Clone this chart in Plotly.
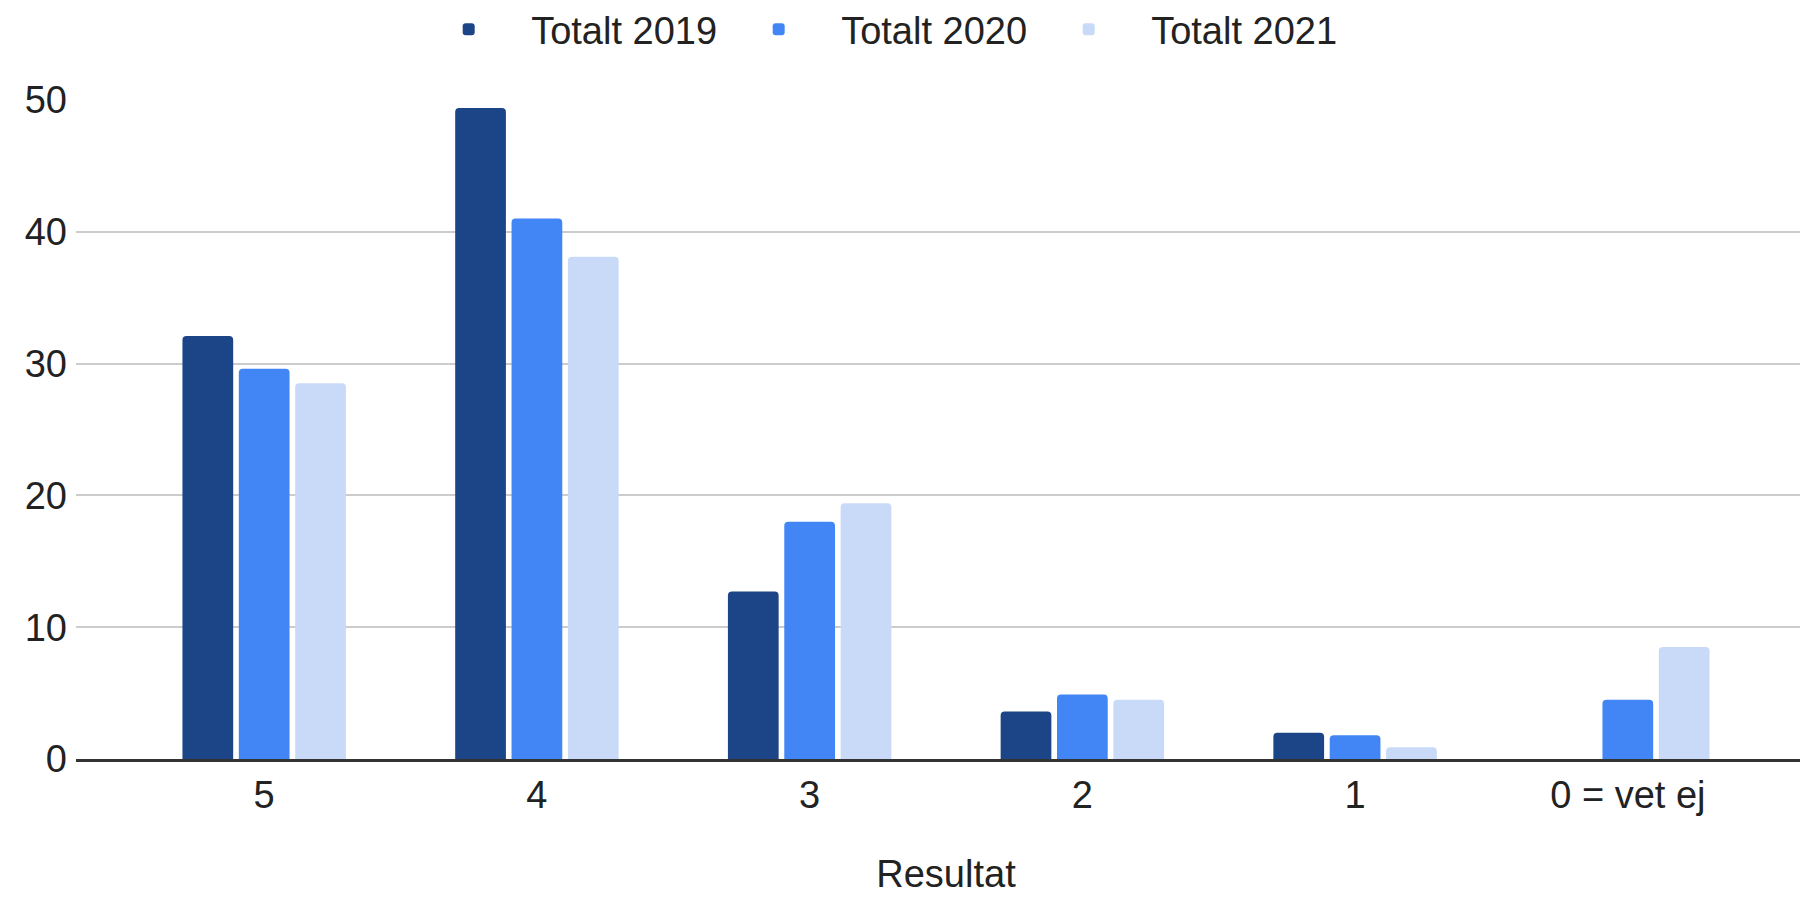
import plotly.graph_objects as go

categories = ["5", "4", "3", "2", "1", "0 = vet ej"]
series_names = ["Totalt 2019", "Totalt 2020", "Totalt 2021"]
totalt_2019 = [32.1, 49.4, 12.7, 3.6, 2.0, 0]
totalt_2020 = [29.6, 41.0, 18.0, 4.9, 1.8, 4.5]
totalt_2021 = [28.5, 38.1, 19.4, 4.5, 0.9, 8.5]
y_ticks = [0, 10, 20, 30, 40, 50]
colors = ["#1c4587", "#4285f4", "#c9daf8"]

fig = go.Figure()
for name, vals, col in zip(series_names, [totalt_2019, totalt_2020, totalt_2021], colors):
    fig.add_trace(go.Bar(x=categories, y=vals, name=name,
                         marker=dict(color=col, cornerradius=4, line=dict(width=0))))

FONT = "Liberation Sans, Arial, sans-serif"
FS = 38
fig.update_layout(
    width=1808, height=898,
    paper_bgcolor="white", plot_bgcolor="white",
    barmode="group", bargap=0.38, bargroupgap=0.1,
    margin=dict(l=68, r=0, t=92, b=147),
    font=dict(family=FONT, size=FS, color="#222222"),
    legend=dict(orientation="h", x=0.457, xanchor="center", y=0.976, yanchor="middle",
                yref="container", font=dict(size=FS, color="#222222"),
                entrywidth=180, entrywidthmode="pixels", itemwidth=115,
                bgcolor="rgba(0,0,0,0)"),
    xaxis=dict(title=dict(text="Resultat", font=dict(size=FS), standoff=46),
               range=[-0.69, 5.69], showgrid=False, showline=True,
               linecolor="#333333", linewidth=3, ticks="", tickfont=dict(size=FS)),
    yaxis=dict(range=[0, 50], tickvals=y_ticks, showgrid=True, gridcolor="#cccccc",
               gridwidth=2, zeroline=False, showline=False, ticks="",
               tickfont=dict(size=FS), ticklabelstandoff=8),
)
fig.write_html("out.html")
